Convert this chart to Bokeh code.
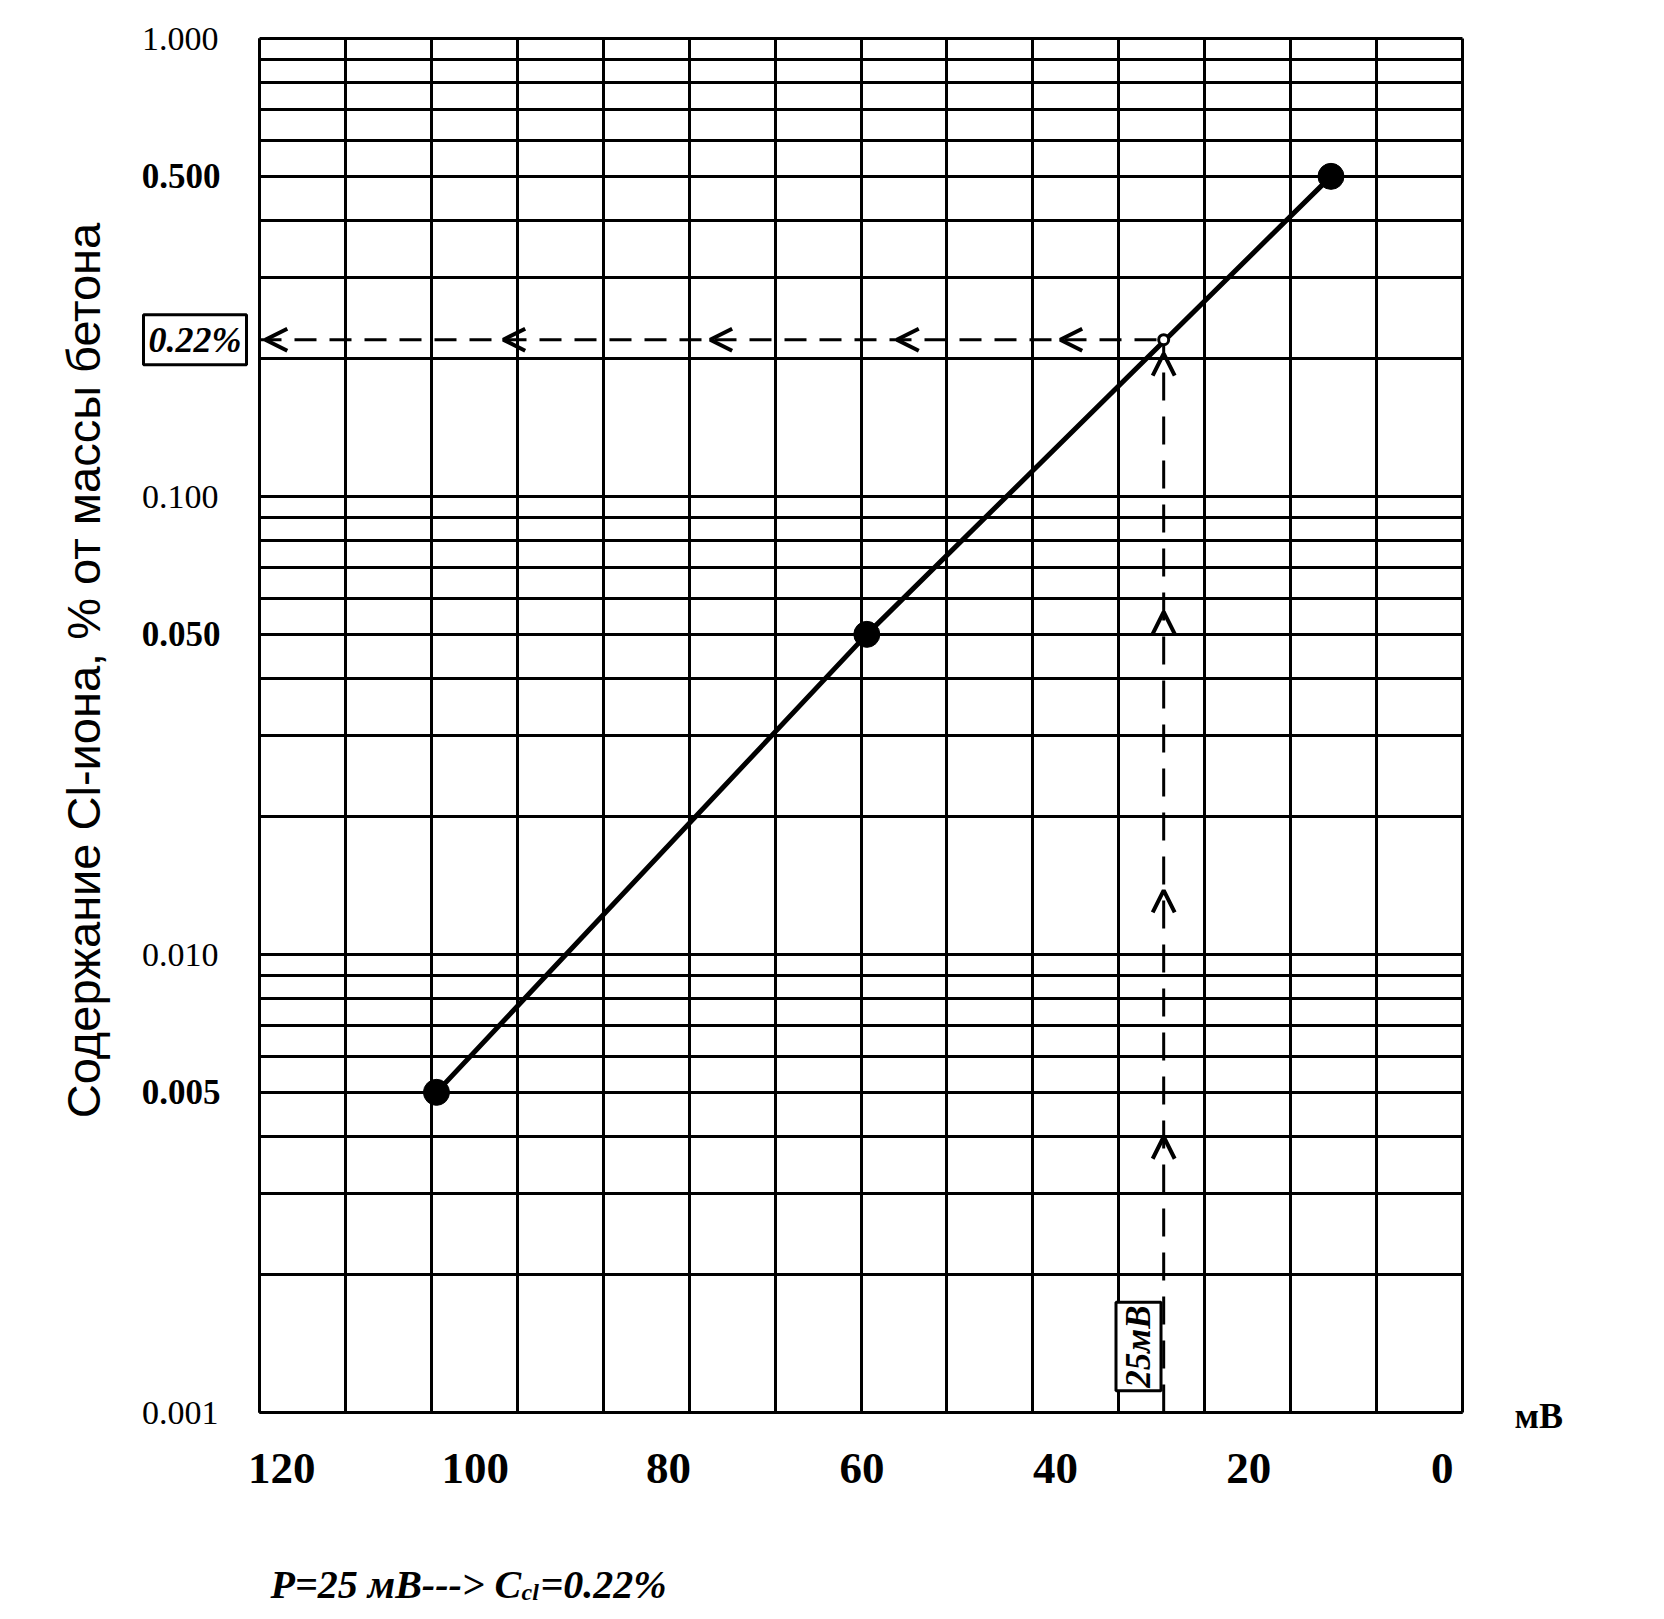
import numpy as np
from bokeh.plotting import figure
from bokeh.models import (Range1d, FixedTicker, Label, Arrow, OpenHead, PrintfTickFormatter,
                          LinearAxis, LogAxis, Grid)
from bokeh.embed import file_html
from bokeh.resources import INLINE

# ---------------- data ----------------
mv = [104.0, 59.5, 11.5]                 # electrode potential, mV
cl_pct = [0.005, 0.05, 0.5]              # Cl-ion content, % of concrete mass
reading_mv = 28.8                        # drawn position of the 25 mV reading
reading_pct = 0.22                       # resulting content, %
reading_mv_text = "25мВ"
reading_pct_text = "0.22%"
x_tick_values = [120, 100, 80, 60, 40, 20, 0]
y_tick_normal = [1.0, 0.1, 0.01, 0.001]
y_tick_bold = [0.5, 0.05, 0.005]
arrow_left_mv = [121.7, 97.1, 75.7, 56.4, 39.5]
arrow_up_pct = [0.004, 0.0138, 0.056, 0.205]
y_title = "Содержание Cl-иона, % от массы бетона"
x_title = "мВ"
formula_main, formula_sub, formula_tail = "P=25 мВ---> C", "cl", "=0.22%"

X_LEFT, X_RIGHT = 122.3, -2.1
Y_BOTTOM, Y_TOP = 0.001, 1.0

# ---------------- geometry (canvas px) ----------------
W, H = 1640, 1610
L, R, T, B = 259, 1462, 38, 1412       # chart box
KX = (X_RIGHT - X_LEFT) / (R - L)
KY = (np.log10(Y_TOP) - np.log10(Y_BOTTOM)) / (B - T)


def dx(px):
    return X_LEFT + (px - L) * KX


def dy(py):
    return 10 ** (np.log10(Y_TOP) - (py - T) * KY)


p = figure(width=W, height=H, x_range=Range1d(dx(0), dx(W)),
           y_range=Range1d(dy(H), dy(0)), y_axis_type="log",
           x_axis_location=None, y_axis_location=None,
           output_backend="svg", toolbar_location=None, title=None,
           min_border=0, min_border_left=0, min_border_right=0,
           min_border_top=0, min_border_bottom=0)
p.background_fill_color = "white"
p.border_fill_color = "white"
p.outline_line_color = None
for g in list(p.grid):
    g.visible = False

# ---------------- grid ----------------
xgrid_ticks = list(np.linspace(X_LEFT, X_RIGHT, 15))
ygrid_ticks = [m * 10.0 ** e for e in (-3, -2, -1) for m in range(1, 10)] + [1.0]
GRID_W = 3
if "cross_bounds" in Grid.properties():
    xg = Grid(dimension=0, ticker=FixedTicker(ticks=xgrid_ticks),
              bounds=(X_RIGHT - 0.01, X_LEFT + 0.01), cross_bounds=(Y_BOTTOM, Y_TOP),
              grid_line_color="black", grid_line_width=GRID_W)
    yg = Grid(dimension=1, ticker=FixedTicker(ticks=ygrid_ticks),
              bounds=(Y_BOTTOM * 0.999, Y_TOP * 1.001), cross_bounds=(X_RIGHT, X_LEFT),
              grid_line_color="black", grid_line_width=GRID_W)
    p.add_layout(xg)
    p.add_layout(yg)
else:
    nx, ny = len(xgrid_ticks), len(ygrid_ticks)
    p.segment(x0=xgrid_ticks, y0=[Y_BOTTOM] * nx, x1=xgrid_ticks, y1=[Y_TOP] * nx,
              line_color="black", line_width=GRID_W)
    p.segment(x0=[X_LEFT] * ny, y0=ygrid_ticks, x1=[X_RIGHT] * ny, y1=ygrid_ticks,
              line_color="black", line_width=GRID_W)


def strip_ticks(ax):
    ax.major_tick_out = 0
    ax.major_tick_in = 0
    ax.minor_tick_out = 0
    ax.minor_tick_in = 0


# ---------------- x axis ----------------
xa = LinearAxis(ticker=FixedTicker(ticks=x_tick_values, minor_ticks=[]),
                fixed_location=Y_BOTTOM, bounds=(X_RIGHT, X_LEFT))
strip_ticks(xa)
xa.axis_line_width = 3
xa.major_label_standoff = 41
xa.major_label_text_font = "Liberation Serif"
xa.major_label_text_font_size = "45px"
xa.major_label_text_font_style = "bold"
xa.major_label_text_color = "black"
p.add_layout(xa, "below")

# ---------------- y axes (normal + bold labels, same location) ----------------
ya = LogAxis(ticker=FixedTicker(ticks=y_tick_normal, minor_ticks=[]),
             formatter=PrintfTickFormatter(format="%.3f"),
             fixed_location=X_LEFT, bounds=(Y_BOTTOM, Y_TOP))
strip_ticks(ya)
ya.axis_line_width = 3
ya.major_label_standoff = 41
ya.major_label_text_font = "Liberation Serif"
ya.major_label_text_font_size = "34px"
ya.major_label_text_color = "black"
p.add_layout(ya, "left")

yb = LogAxis(ticker=FixedTicker(ticks=y_tick_bold, minor_ticks=[]),
             formatter=PrintfTickFormatter(format="%.3f"),
             fixed_location=X_LEFT, bounds=(dy(1190), dy(150)))
strip_ticks(yb)
yb.axis_line_color = None
yb.major_label_standoff = 39
yb.major_label_text_font = "Liberation Serif"
yb.major_label_text_font_size = "35px"
yb.major_label_text_font_style = "bold"
yb.major_label_text_color = "black"
yb.axis_label = y_title
yb.axis_label_text_font = "Liberation Sans"
yb.axis_label_text_font_size = "47px"
yb.axis_label_text_font_style = "normal"
yb.axis_label_text_color = "black"
yb.axis_label_standoff = 29
p.add_layout(yb, "left")

# ---------------- calibration line and points ----------------
p.line(mv, cl_pct, line_width=5, color="black")
p.scatter(mv, cl_pct, size=26, color="black")

# ---------------- reading construction ----------------
p.line([X_LEFT, reading_mv], [reading_pct, reading_pct], line_dash="22 13",
       line_width=3, color="black")
p.line([reading_mv, reading_mv], [Y_BOTTOM, reading_pct], line_dash="28 16",
       line_width=3, color="black")

for v in arrow_left_mv:
    p.add_layout(Arrow(end=OpenHead(size=22, line_width=4, line_color="black"),
                       x_start=v - 0.5, x_end=v, y_start=reading_pct, y_end=reading_pct,
                       line_alpha=0))
for v in arrow_up_pct:
    p.add_layout(Arrow(end=OpenHead(size=22, line_width=4, line_color="black"),
                       x_start=reading_mv, x_end=reading_mv, y_start=v / 1.02, y_end=v,
                       line_alpha=0))

p.scatter([reading_mv], [reading_pct], size=10, fill_color="white",
          line_color="black", line_width=3)

# ---------------- boxed labels ----------------
p.add_layout(Label(x=dx(246), y=reading_pct, text=reading_pct_text,
                   text_align="right", text_baseline="middle",
                   text_font="Liberation Serif", text_font_size="36px",
                   text_font_style="bold italic", text_color="black",
                   border_line_color="black", border_line_width=3, padding=5,
                   background_fill_color="white"))
p.add_layout(Label(x=dx(1138), y=dy(1346), text=reading_mv_text, angle=np.pi / 2,
                   text_align="center", text_baseline="middle",
                   text_font="Liberation Serif", text_font_size="35px",
                   text_font_style="bold italic", text_color="black",
                   border_line_color="black", border_line_width=3, padding=3,
                   background_fill_color="white"))

# ---------------- x-axis unit ----------------
p.add_layout(Label(x=dx(1514), y=dy(1415), text=x_title, text_align="left",
                   text_baseline="middle", text_font="Liberation Serif",
                   text_font_size="36px", text_font_style="bold", text_color="black"))

# ---------------- formula below the chart ----------------
p.add_layout(Label(x=dx(270), y=dy(1584), text=formula_main, text_align="left",
                   text_baseline="alphabetic", text_font="Liberation Serif",
                   text_font_size="40px", text_font_style="bold italic", text_color="black"))
p.add_layout(Label(x=dx(521), y=dy(1591), text=formula_sub, text_align="left",
                   text_baseline="alphabetic", text_font="Liberation Serif",
                   text_font_size="24px", text_font_style="bold italic", text_color="black"))
p.add_layout(Label(x=dx(540), y=dy(1584), text=formula_tail, text_align="left",
                   text_baseline="alphabetic", text_font="Liberation Serif",
                   text_font_size="40px", text_font_style="bold italic", text_color="black"))

open("out.html", "w").write(file_html(p, INLINE))
